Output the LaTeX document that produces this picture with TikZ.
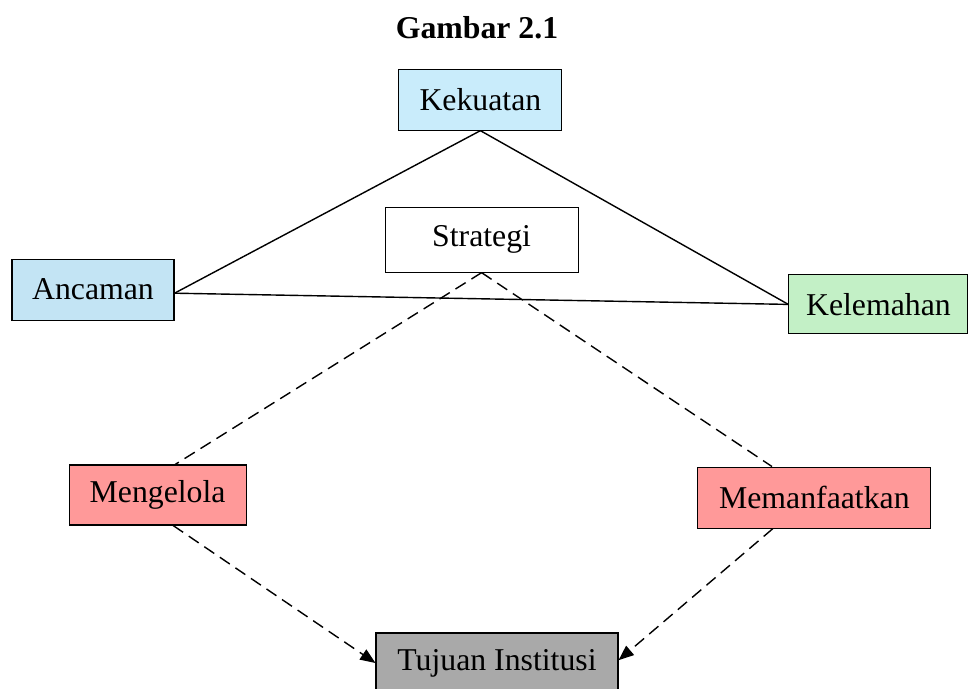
\documentclass[tikz,border=0pt]{standalone}
\usepackage{fontspec}
\setmainfont{Liberation Serif}
\usetikzlibrary{arrows.meta}

\definecolor{kuatblue}{HTML}{C9ECFB}
\definecolor{ancamblue}{HTML}{C3E4F4}
\definecolor{lemahgreen}{HTML}{C3F0C6}
\definecolor{aksipink}{HTML}{FF9999}
\definecolor{tujuangray}{HTML}{A9A9A9}

\begin{document}
\begin{tikzpicture}

      % Every box in the diagram shares this look; only the fill changes
      \tikzstyle{box}=[draw, line width=0.8pt, inner sep=0pt, font=\fontsize{22.6}{27}\selectfont]
      \tikzstyle{link}=[line width=1pt]
      \tikzstyle{dashlink}=[line width=1pt, dash pattern=on 0.3cm off 0.17cm]
      \tikzstyle{goal}=[dashlink, -{Triangle[length=0.38cm,width=0.3cm]}]

      \def\bh{1.525}     % Usual box height

      \useasboundingbox (0,0) rectangle (24.225,17.2);

      \node[font=\bfseries\fontsize{22.6}{27}\selectfont] (judul) at (11.925,16.5) {Gambar 2.1};

      \node[box, fill=kuatblue, minimum width=4.075cm, minimum height=\bh cm] (kekuatan) at (12.01,14.71) {Kekuatan};
      \node[box, fill=white, minimum width=4.825cm, minimum height=1.625cm] (strategi) at (12.04,11.21) {Strategi};
      \node[box, fill=ancamblue, minimum width=4.05cm, minimum height=\bh cm] (ancaman) at (2.325,9.96) {Ancaman};
      \node[box, fill=lemahgreen, minimum width=4.475cm, minimum height=1.475cm] (kelemahan) at (21.96,9.59) {Kelemahan};
      \node[box, fill=aksipink, minimum width=4.425cm, minimum height=1.5cm] (mengelola) at (3.94,4.825) {Mengelola};
      \node[box, fill=aksipink, minimum width=5.825cm, minimum height=\bh cm] (memanfaatkan) at (20.36,4.76) {Memanfaatkan};
      \node[box, fill=tujuangray, minimum width=6.05cm, minimum height=1.5cm] (tujuan) at (12.425,0.625) {Tujuan Institusi};

      % The triangle of strengths, weaknesses and threats
      \draw[link] (kekuatan.south) -- ([yshift=-0.09cm]ancaman.east);
      \draw[link] (kekuatan.south) -- (kelemahan.west);
      \draw[link] ([yshift=-0.09cm]ancaman.east) -- (kelemahan.west);

      % Strategy splits into the two actions, which both lead to the goal
      \draw[dashlink] (strategi.south) -- ([xshift=0.44cm]mengelola.north);
      \draw[dashlink] (strategi.south) -- ([xshift=-1.06cm]memanfaatkan.north);
      \draw[goal] ([xshift=0.39cm]mengelola.south) -- (tujuan.west);
      \draw[goal] ([xshift=-1.04cm]memanfaatkan.south) -- ([yshift=0.07cm]tujuan.east);

   \end{tikzpicture}
\end{document}
